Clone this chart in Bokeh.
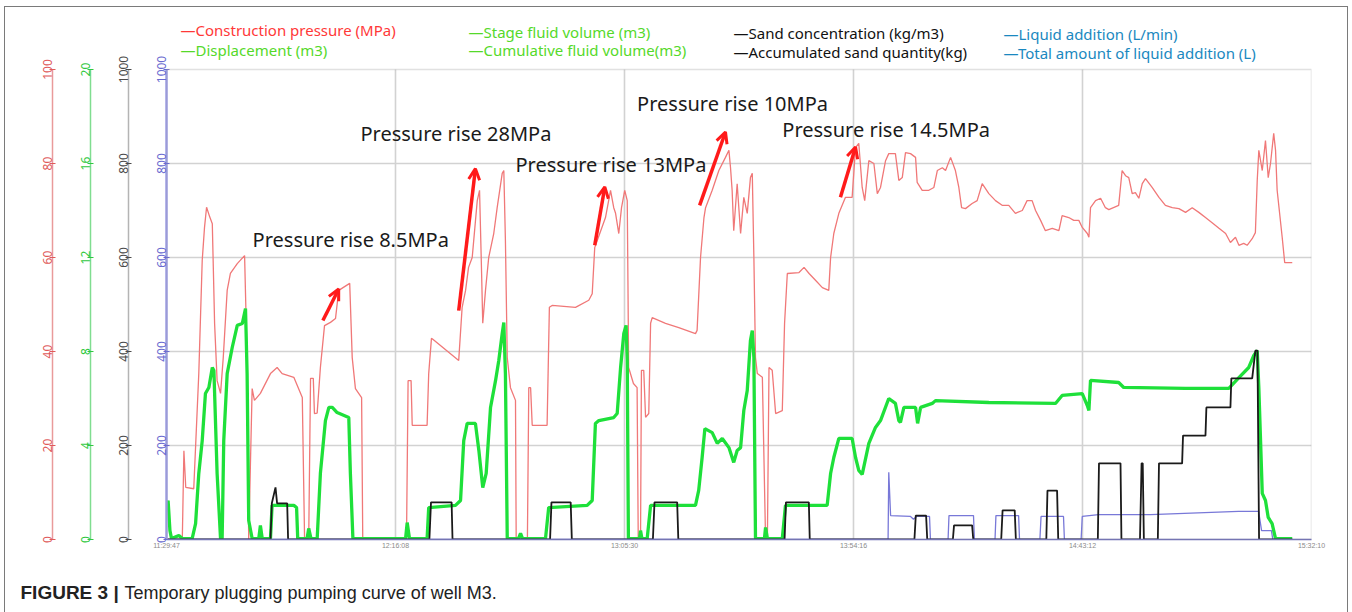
from bokeh.plotting import figure
from bokeh.models import (Range1d, LinearAxis, FixedTicker, Label, Arrow, OpenHead, BoxAnnotation,
                          InlineStyleSheet)
from bokeh.layouts import column
from bokeh.embed import file_html
from bokeh.resources import INLINE

# ---------------- data (time in arbitrary minutes 0-500) ----------------
pressure_t = [0, 6.9, 7.6, 8.4, 11.9, 14.1, 15.6, 16.6, 17.5, 18.9, 20.0, 21.0, 22.1, 23.6, 24.8, 26.5, 27.9, 30.9, 34.1, 35.0,
              35.9, 37.4, 38.4, 41.0, 45.4, 48.3, 50.5, 55.6, 59.3, 60.3, 62.1, 62.9, 64.1, 64.6, 65.8, 67.2, 69.0, 71.6, 73.8, 75.2,
              80.0, 81.1, 82.5, 85.2, 85.7, 104.8, 105.5, 106.8, 107.3, 113.8, 114.5, 115.7, 116.3, 127.6, 129.1, 130.6, 131.9, 133.5, 135.7, 136.7,
              137.6, 138.1, 139.3, 140.7, 142.9, 144.4, 146.6, 147.3, 148.0, 148.8, 150.2, 152.4, 152.7, 157.6, 158.2, 159.0, 159.7, 166.2, 167.2, 168.4,
              178.6, 184.4, 185.9, 187.0, 188.1, 191.7, 193.9, 195.3, 196.1, 197.5, 198.7, 200.1, 201.2, 201.5, 201.8, 203.9, 205.5, 206.0, 207.0, 207.4,
              208.4, 209.2, 210.6, 211.4, 212.1, 217.9, 223.7, 231.0, 231.7, 233.2, 234.7, 235.4, 238.3, 241.2, 244.1, 245.6, 246.3, 247.0, 247.7, 249.2,
              250.7, 252.1, 253.6, 255.0, 255.8, 256.5, 257.2, 258.0, 260.2, 261.6, 262.4, 263.1, 264.5, 266.0, 268.9, 269.9, 271.1, 276.2, 278.4, 280.6,
              283.5, 286.4, 289.2, 290.0, 291.4, 293.6, 296.5, 299.4, 300.9, 302.3, 303.8, 304.9, 306.7, 308.9, 310.4, 311.8, 314.0, 315.4, 318.3, 319.8,
              321.3, 322.7, 324.9, 327.1, 327.8, 330.0, 332.9, 335.1, 336.6, 338.8, 340.2, 342.4, 344.5, 346.0, 347.2, 348.9, 351.8, 354.0, 356.2, 359.1,
              362.0, 364.9, 367.8, 370.7, 373.7, 375.8, 378.0, 379.5, 381.7, 383.8, 386.8, 389.7, 391.1, 394.0, 396.2, 398.4, 399.9, 402.1, 402.8, 403.5,
              405.7, 407.9, 410.0, 411.5, 415.8, 417.3, 418.8, 420.2, 421.7, 423.1, 424.6, 426.1, 427.5, 430.4, 433.4, 436.2, 439.2, 442.1, 445.0, 447.9,
              450.8, 453.7, 456.6, 459.6, 462.5, 464.6, 466.8, 468.3, 470.4, 471.9, 474.1, 475.5, 476.3, 477.0, 478.5, 479.9, 481.1, 482.1, 483.5, 484.3,
              485.0, 487.2, 488.3, 491.6]
pressure_mpa = [0, 0, 18.9, 11.1, 10.8, 35.3, 59.4, 66.4, 70.7, 68.6, 67.2, 46.0, 33.8, 31.1, 38.8, 53.0, 56.6, 58.7, 60.4, 42.3,
                0, 32.1, 29.6, 31.1, 35.3, 36.6, 35.3, 34.5, 30.2, 0, 0, 34.3, 34.3, 26.8, 26.9, 36.6, 45.5, 46.2, 47.0, 53.0,
                54.5, 38.7, 32.1, 30.2, 0, 0, 33.8, 33.8, 24.3, 24.3, 35.3, 42.8, 42.6, 38.1, 49.4, 53.0, 57.9, 60.0, 72.1, 74.3,
                56.6, 46.0, 53.0, 60.0, 65.1, 70.6, 77.9, 78.5, 63.6, 38.7, 32.3, 29.6, 0, 0, 32.3, 32.3, 24.3, 24.3, 49.4, 49.8,
                49.4, 50.9, 52.3, 62.1, 63.6, 68.5, 74.3, 70.6, 69.4, 65.1, 70.6, 74.3, 72.1, 55.0, 36.6, 33.2, 32.3, 0, 0, 36.0,
                36.0, 26.0, 26.8, 46.0, 47.2, 46.0, 45.1, 43.8, 44.5, 60.0, 68.5, 70.6, 74.3, 78.5, 81.3, 82.8, 79.1, 74.3, 65.7, 75.7,
                65.1, 72.8, 69.4, 77.0, 77.9, 60.0, 38.7, 35.3, 34.5, 0, 0, 36.6, 36.0, 26.8, 27.4, 46.0, 56.6, 56.8, 57.9, 56.6,
                55.1, 53.6, 53.0, 60.0, 65.1, 69.4, 72.8, 72.8, 83.4, 84.3, 74.9, 72.1, 80.6, 80.0, 73.6, 74.9, 80.6, 82.1, 82.1, 76.4,
                77.0, 82.3, 82.1, 81.3, 76.0, 74.3, 74.3, 74.9, 78.5, 79.1, 78.5, 81.3, 78.5, 74.9, 70.6, 70.4, 71.5, 72.1, 75.7, 73.6,
                72.1, 71.1, 71.1, 69.4, 70.0, 72.1, 72.1, 70.0, 67.9, 65.7, 66.2, 65.7, 68.9, 68.5, 67.9, 67.9, 66.4, 65.1, 64.3, 70.6,
                72.1, 72.6, 70.6, 70.2, 71.1, 78.5, 77.4, 77.0, 73.6, 73.8, 72.6, 75.7, 76.8, 74.9, 72.8, 71.1, 70.6, 70.4, 69.6, 70.6,
                69.6, 68.5, 67.4, 66.2, 65.1, 63.2, 64.3, 62.6, 63.0, 62.6, 64.0, 65.3, 76.4, 82.8, 78.5, 84.9, 77.0, 80.0, 86.4, 82.8,
                74.3, 64.3, 58.9, 58.9]

displacement_t = [0, 0.7, 1.5, 2.2, 5.4, 6.9, 11.2, 12.7, 14.1, 15.6, 17.0, 18.5, 20.0, 20.7, 22.1, 23.6, 24.3, 25.0, 26.5, 28.7,
                  30.9, 33.1, 34.5, 35.2, 35.9, 37.4, 40.3, 41.0, 41.8, 45.4, 46.1, 55.6, 56.8, 57.3, 61.4, 62.1, 63.1, 65.8, 67.2, 69.4,
                  70.9, 72.4, 74.5, 79.6, 80.3, 81.4, 104.4, 105.1, 106.1, 113.8, 114.5, 126.2, 128.4, 129.8, 131.3, 134.9, 136.4, 138.1, 139.6, 141.5,
                  143.7, 145.1, 146.6, 147.3, 148.0, 148.8, 153.7, 154.6, 155.5, 165.5, 166.9, 183.7, 185.9, 187.3, 188.8, 195.3, 196.8, 198.3, 199.7, 200.7,
                  201.2, 201.7, 206.6, 207.0, 207.6, 209.9, 211.4, 231.0, 232.4, 233.9, 235.1, 238.3, 240.5, 242.7, 245.6, 247.7, 249.2, 250.7, 252.1, 253.6,
                  255.0, 255.8, 256.5, 257.2, 261.1, 261.6, 262.4, 268.9, 270.3, 288.5, 290.0, 291.4, 293.6, 299.4, 300.9, 302.3, 303.8, 306.7, 309.6, 311.8,
                  315.4, 318.3, 319.8, 320.5, 322.0, 327.1, 328.0, 329.3, 334.4, 335.8, 359.1, 388.2, 391.1, 399.9, 402.1, 402.8, 403.5, 415.8, 418.0, 445.0,
                  463.9, 468.3, 472.6, 474.8, 476.3, 477.0, 478.5, 479.9, 481.1, 482.8, 484.3, 491.6]
displacement_m3 = [1.23, 1.66, 0.38, 0.04, 0.17, 0.04, 0.04, 0.68, 2.81, 4.21, 6.21, 6.47, 7.32, 7.19, 2.81, 0.04, 0.04, 4.21, 7.06, 8.17,
                   9.11, 9.19, 9.83, 7.06, 0.81, 0.04, 0.04, 0.60, 0.04, 0.04, 1.45, 1.45, 1.36, 0.04, 0.04, 0.47, 0.04, 0.04, 2.81, 5.06,
                   5.62, 5.62, 5.40, 5.19, 2.81, 0.04, 0.04, 0.72, 0.04, 0.04, 1.36, 1.45, 1.66, 4.21, 4.94, 4.94, 3.79, 2.21, 2.81, 5.62,
                   6.77, 7.62, 8.77, 9.23, 7.06, 0.04, 0.04, 0.26, 0.04, 0.04, 1.36, 1.45, 1.66, 4.94, 5.06, 5.19, 5.36, 7.32, 8.77, 9.11,
                   7.62, 0.04, 0.04, 0.38, 0.04, 0.04, 1.45, 1.45, 2.09, 3.49, 4.72, 4.55, 4.09, 4.30, 3.91, 3.28, 3.79, 3.91, 5.49, 6.34,
                   8.47, 8.89, 7.74, 0.04, 0.04, 0.51, 0.04, 0.04, 1.45, 1.45, 2.81, 3.49, 4.30, 4.30, 3.49, 2.94, 2.77, 4.09, 4.77, 5.06,
                   6.00, 5.79, 5.06, 4.98, 5.62, 5.62, 4.94, 5.62, 5.79, 5.91, 5.83, 5.79, 6.13, 6.21, 5.70, 5.49, 6.77, 6.68, 6.47, 6.43,
                   6.43, 6.89, 7.32, 7.83, 8.04, 6.47, 1.96, 1.66, 0.94, 0.68, 0.04, 0.04]

sand_t = [0, 45.4, 46.0, 47.6, 48.3, 52.7, 53.1, 114.8, 115.5, 124.5, 124.9, 167.5, 168.1, 176.5, 177.0, 212.4, 213.1, 223.0, 223.5, 269.9,
          270.5, 280.5, 280.9, 326.6, 327.2, 331.7, 332.2, 343.4, 343.9, 351.8, 352.3, 364.5, 365.1, 370.4, 370.9, 384.2, 384.7, 388.9, 389.4, 406.7,
          407.2, 416.6, 417.0, 425.1, 425.8, 426.3, 426.8, 432.9, 433.4, 443.5, 443.9, 453.7, 454.1, 464.6, 465.0, 474.1, 475.5, 476.4, 477.1, 491.6]
sand_kg = [0, 0, 77, 111, 77, 77, 0, 0, 79, 79, 0, 0, 79, 79, 0, 0, 79, 79, 0, 0,
           79, 79, 0, 0, 51, 51, 0, 0, 30, 30, 0, 0, 62, 62, 0, 0, 104, 104, 0, 0,
           162, 162, 0, 0, 162, 162, 0, 0, 162, 162, 221, 221, 281, 281, 343, 343, 402, 402, 0, 0]

liquid_t = [0, 315.1, 315.4, 316.2, 324.9, 326.2, 327.5, 333.2, 333.6, 341.3, 341.7, 352.4, 352.8, 361.8, 362.2, 372.1, 372.5, 381.4, 381.9, 391.7,
            392.1, 399.4, 399.9, 407.0, 429.7, 468.1, 476.9, 478.2, 482.5, 483.1, 491.6]
liquid_lmin = [0, 0, 143, 51, 49, 43, 49, 49, 0, 0, 51, 51, 0, 0, 51, 51, 0, 0, 49, 49,
               0, 0, 49, 53, 53, 60, 60, 19, 19, 0, 0]

time_ticks = [0, 100, 200, 300, 400, 500]
time_labels = ["11:29:47", "12:16:08", "13:05:30", "13:54:16", "14:43:12", "15:32:10"]
pressure_ticks = [0, 20, 40, 60, 80, 100]
fluid_ticks = [0, 4, 8, 12, 16, 20]
sand_ticks = [0, 200, 400, 600, 800, 1000]
grid_y = [200, 400, 600, 800]

annotations = ["Pressure rise 8.5MPa", "Pressure rise 28MPa", "Pressure rise 13MPa",
               "Pressure rise 10MPa", "Pressure rise 14.5MPa"]

legend_cols = [
    (["#ff3838", "#55d92a"], ["\u2014Construction pressure (MPa)", "\u2014Displacement (m3)"]),
    (["#55d92a", "#55d92a"], ["\u2014Stage fluid volume (m3)", "\u2014Cumulative fluid volume(m3)"]),
    (["#111111", "#111111"], ["\u2014Sand concentration (kg/m3)", "\u2014Accumulated sand quantity(kg)"]),
    (["#1a88c0", "#1a88c0"], ["\u2014Liquid addition (L/min)", "\u2014Total amount of liquid addition (L)"]),
]

caption_bold = "FIGURE 3 |"
caption_text = "Temporary plugging pumping curve of well M3."

# ---------------- main figure ----------------
# frame spans canvas top (y=0 px) to the x axis; value 1000 sits 69 px below the top
TOP = 1000 * 539 / 470
p = figure(width=1352, height=560, output_backend="svg", toolbar_location=None,
           x_range=Range1d(0, 500), y_range=Range1d(0, TOP),
           min_border_left=166, min_border_right=41, min_border_top=0, min_border_bottom=21)
p.frame_align = False
p.background_fill_color = "white"
p.border_fill_color = "white"
p.outline_line_color = None

p.extra_y_ranges = {"sand": Range1d(0, TOP), "fluid": Range1d(0, TOP / 50), "pres": Range1d(0, TOP / 10)}

p.xgrid.visible = False
p.ygrid[0].ticker = FixedTicker(ticks=grid_y)
p.ygrid[0].grid_line_color = "#d2d2d2"
p.ygrid[0].grid_line_width = 1.6

xa = p.xaxis[0]
xa.ticker = FixedTicker(ticks=time_ticks)
xa.major_label_overrides = {t: l for t, l in zip(time_ticks, time_labels)}
xa.major_label_text_font_size = "7px"
xa.major_label_text_color = "#8a8a8a"
xa.major_label_standoff = 2
xa.major_tick_in = 0
xa.major_tick_out = 0
xa.minor_tick_line_color = None
xa.axis_line_color = "#6f6fb8"
xa.axis_line_width = 1.5


def style_axis(ax, ticks, line_color, label_color, lw=1.5):
    ax.ticker = FixedTicker(ticks=ticks)
    ax.bounds = (ticks[0], ticks[-1])
    ax.major_label_orientation = "parallel"
    ax.major_label_text_font = "Noto Sans"
    ax.major_label_text_font_size = "12px"
    ax.major_label_text_color = label_color
    ax.major_label_standoff = -2
    ax.major_tick_in = 3
    ax.major_tick_out = 3
    ax.major_tick_line_color = label_color
    ax.minor_tick_line_color = None
    ax.axis_line_color = line_color
    ax.axis_line_width = lw
    ax.axis_label = " "
    ax.axis_label_text_font_size = "10px"
    ax.axis_label_standoff = 11


style_axis(p.yaxis[0], sand_ticks, "#9c9ce2", "#6a6ad0", lw=2.5)
ax_sand = LinearAxis(y_range_name="sand")
style_axis(ax_sand, sand_ticks, "#b4b4b4", "#4a4a4a")
p.add_layout(ax_sand, "left")
ax_fluid = LinearAxis(y_range_name="fluid")
style_axis(ax_fluid, fluid_ticks, "#80dd90", "#30c840")
p.add_layout(ax_fluid, "left")
ax_pres = LinearAxis(y_range_name="pres")
style_axis(ax_pres, pressure_ticks, "#e99a9a", "#e05a5a")
p.add_layout(ax_pres, "left")

# vertical grid lines limited to the plot box
vx = time_ticks[1:-1]
p.segment(x0=vx, y0=[sand_ticks[0]] * len(vx), x1=vx, y1=[sand_ticks[-1]] * len(vx),
          line_color="#d2d2d2", line_width=1.6, level="underlay")

# ---------------- series ----------------
p.line(liquid_t, liquid_lmin, color="#7878d8", line_width=1.3)
p.line(pressure_t, pressure_mpa, y_range_name="pres", color="#f07878", line_width=1.3)
p.line(displacement_t, displacement_m3, y_range_name="fluid", color="#1ee03a", line_width=3.3)
p.line(sand_t, sand_kg, y_range_name="sand", color="#1a1a1a", line_width=1.8)

# plot-area box
p.add_layout(BoxAnnotation(left=0, right=500, bottom=0, top=1000, fill_color=None, fill_alpha=0,
                           line_color="#9a9a9a", line_width=1.5))

# ---------------- annotations ----------------
ann_pos = [(37.6, 639), (84.7, 864), (152.4, 798), (205.5, 928), (268.9, 872)]
for txt, (ax_, ay_) in zip(annotations, ann_pos):
    p.add_layout(Label(x=ax_, y=ay_, text=txt, text_font="Noto Sans", text_font_size="20px",
                       text_color="#1a1a1a", text_baseline="middle", text_align="left"))

arrows = [((68.3, 466), (75.2, 533)), ((127.6, 487), (134.9, 789)), ((187.0, 626), (191.4, 750)),
          ((232.8, 711), (244.1, 867)), ((294.3, 728), (300.9, 835))]
for (x0, y0), (x1, y1) in arrows:
    p.add_layout(Arrow(end=OpenHead(size=11, line_color="#ff1a1a", line_width=3),
                       x_start=x0, y_start=y0, x_end=x1, y_end=y1,
                       line_color="#ff1a1a", line_width=3.5))

# legend (header, inside the frame above the plot box)
leg_x = [6.1, 131.9, 247.6, 365.5]
leg_y = [(1084.0, 1042.5), (1080.7, 1042.5), (1078.0, 1038.2), (1075.9, 1035.4)]
for (cols, texts), lx, (y1, y2) in zip(legend_cols, leg_x, leg_y):
    for c, t, ly in zip(cols, texts, (y1, y2)):
        p.add_layout(Label(x=lx, y=ly, text=t, text_font="Noto Sans", text_font_size="15px",
                           text_color=c, text_baseline="middle", text_align="left"))

# ---------------- caption figure ----------------
cap = figure(width=1352, height=52, output_backend="svg", toolbar_location=None,
             x_range=Range1d(0, 1352), y_range=Range1d(52, 0),
             x_axis_type=None, y_axis_type=None, min_border=0)
cap.frame_align = False
cap.grid.visible = False
cap.outline_line_color = None
cap.background_fill_color = "white"
cap.border_fill_color = "white"
cap.add_layout(Label(x=20, y=32, text=caption_bold, text_font="Liberation Sans",
                     text_font_size="19px", text_font_style="bold", text_color="#222222",
                     text_baseline="middle"))
cap.add_layout(Label(x=124, y=32, text=caption_text, text_font="Liberation Sans",
                     text_font_size="18px", text_color="#222222", text_baseline="middle"))

css = (":host{position:relative;}"
       ":host::after{content:'';position:absolute;left:4px;top:6px;right:4px;bottom:0;"
       "border:1.5px solid #7a7a7a;border-bottom:none;pointer-events:none;}")
lay = column(p, cap, spacing=0, stylesheets=[InlineStyleSheet(css=css)])

open("out.html", "w").write(file_html(lay, INLINE))
